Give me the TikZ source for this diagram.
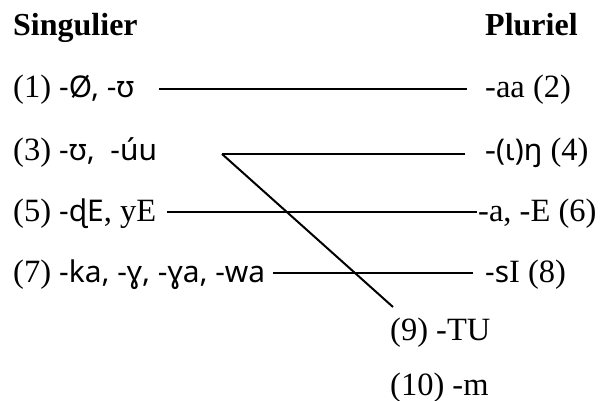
\documentclass[tikz,border=0pt]{standalone}
\usepackage{fontspec}
\setmainfont{Liberation Serif}
\newfontfamily\ipafont[Scale=0.92]{Noto Sans}
\newcommand{\ipa}[1]{{\ipafont #1}}

\begin{document}
\begin{tikzpicture}[x=1pt,y=-1pt,
  lbl/.style={anchor=base west,inner sep=0pt,font=\fontsize{32.5}{38}\selectfont},
  head/.style={lbl,font=\fontsize{32}{38}\selectfont\bfseries},
  link/.style={line width=2pt}]
\useasboundingbox (0,0) rectangle (602,401);

\node[head] (sg) at (13,36) {Singulier};
\node[head] (pl) at (485,36) {Pluriel};

\node[lbl] (s1) at (13,98) {(1) \ipa{-Ø, -ʊ}};
\node[lbl] (s3) at (13,160) {(3) \ipa{-ʊ,\ \ -úu}};
\node[lbl] (s5) at (13,221) {(5) \ipa{-ɖE}, yE};
\node[lbl] (s7) at (13,282) {(7) \ipa{-ka, -ɣ, -ɣa, -wa}};

\node[lbl] (p2) at (485,98) {-aa (2)};
\node[lbl] (p4) at (485,160) {-\ipa{(ɩ)ŋ} (4)};
\node[lbl] (p6) at (478,221) {-a, -E (6)};
\node[lbl] (p8) at (485,282) {\ipa{-s}I (8)};
\node[lbl] (t9) at (390,340) {(9) -TU};
\node[lbl] (t10) at (390,395) {(10) -m};

\coordinate (a1) at (159,89);
\coordinate (b1) at (467,89);
\coordinate (a3) at (222,154);
\coordinate (b3) at (465,154);
\coordinate (c9) at (393,307);
\coordinate (a5) at (167,212);
\coordinate (b5) at (477,212);
\coordinate (a7) at (273,273);
\coordinate (b7) at (473,273);

\draw[link] (a1) -- (b1);
\draw[link] (a3) -- (b3);
\draw[link] (a3) -- (c9);
\draw[link] (a5) -- (b5);
\draw[link] (a7) -- (b7);
\end{tikzpicture}
\end{document}
